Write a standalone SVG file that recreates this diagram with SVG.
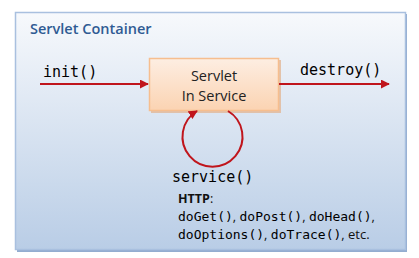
<svg xmlns="http://www.w3.org/2000/svg" width="419" height="258" viewBox="0 0 419 258">
<defs>
<linearGradient id="bg" x1="0" y1="0" x2="0" y2="1">
<stop offset="0" stop-color="#f7f9fc"/>
<stop offset="1" stop-color="#b9cde6"/>
</linearGradient>
<linearGradient id="box" x1="0" y1="0" x2="0" y2="1">
<stop offset="0" stop-color="#fdeee2"/>
<stop offset="1" stop-color="#fbd3b2"/>
</linearGradient>
<marker id="ah" viewBox="0 0 10 10" refX="9" refY="5" markerWidth="4.5" markerHeight="4.5" markerUnits="strokeWidth" orient="auto">
<path d="M0,0 L10,5 L0,10 z" fill="#c0151c"/>
</marker>
<style>
.mono{font-family:"DejaVu Sans Mono","Liberation Mono",monospace;fill:#000;}
.sans{font-family:"Open Sans","Liberation Sans",sans-serif;}
.conn{stroke:#c0151c;stroke-width:2;fill:none;}
</style>
</defs>
<g id="container">
<rect x="17" y="14" width="390" height="238" fill="#93add0"/>
<rect x="15.5" y="12.5" width="390" height="237" fill="url(#bg)" stroke="#a9c0df" stroke-width="1.5"/>
<text class="sans" x="30" y="34" font-size="14.5" font-weight="600" fill="#2f5b93">Servlet Container</text>
</g>
<g id="servlet">
<rect x="151" y="60" width="130" height="53" fill="#e2b897" opacity="0.8"/>
<rect x="149.5" y="58.5" width="129" height="52" fill="url(#box)" stroke="#f6be8f" stroke-width="1.5"/>
<text class="sans" x="214" y="81" font-size="14.5" text-anchor="middle" fill="#222">Servlet</text>
<text class="sans" x="214" y="101" font-size="14.5" text-anchor="middle" fill="#222">In Service</text>
</g>
<g id="connectors">
<line class="conn" x1="40" y1="84" x2="148" y2="84" marker-end="url(#ah)"/>
<line class="conn" x1="279" y1="84" x2="389" y2="84" marker-end="url(#ah)"/>
<path class="conn" d="M228,111 A30,30 0 1 1 197,111" marker-end="url(#ah)"/>
</g>
<g id="labels">
<text class="mono" x="43" y="77" font-size="15">init()</text>
<text class="mono" x="300" y="75" font-size="15">destroy()</text>
<text class="mono" x="172" y="182" font-size="15">service()</text>
<text class="sans" x="178" y="203" font-size="12.5" fill="#111"><tspan font-weight="bold">HTTP</tspan>:</text>
<text x="178" y="221" font-size="13" fill="#111"><tspan class="mono">doGet()</tspan><tspan class="sans">, </tspan><tspan class="mono">doPost()</tspan><tspan class="sans">, </tspan><tspan class="mono">doHead()</tspan><tspan class="sans">,</tspan></text>
<text x="178" y="239" font-size="13" fill="#111"><tspan class="mono">doOptions()</tspan><tspan class="sans">, </tspan><tspan class="mono">doTrace()</tspan><tspan class="sans">, etc.</tspan></text>
</g>
</svg>
